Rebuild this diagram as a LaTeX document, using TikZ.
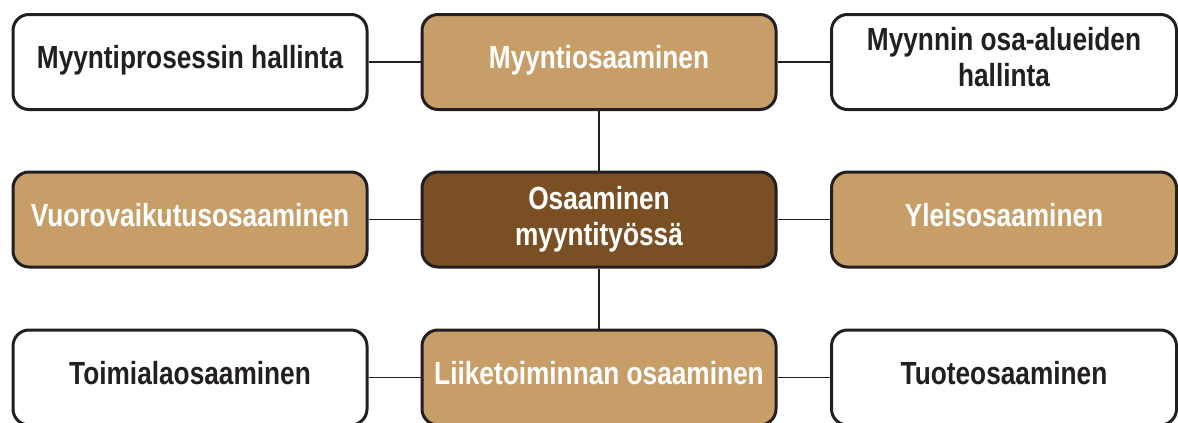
\documentclass[tikz,border=0pt]{standalone}
\usepackage{fontspec}
\setmainfont{Liberation Sans}[FakeStretch=0.82]
\definecolor{tan}{HTML}{C89E68}
\definecolor{darkbrown}{HTML}{7B4F24}
\definecolor{ink}{HTML}{231F20}
% invisible struts fixing the height of a first line and the depth of a last line
\newcommand\tallstrut{\rule{0pt}{24pt}}
\newcommand\deepstrut[1]{\rule[-#1]{0pt}{#1}}
\begin{document}
\begin{tikzpicture}[x=1pt,y=-1pt,
  box/.style={draw=ink, line width=3pt, rounded corners=16pt,
    minimum width=354pt, minimum height=95pt, inner sep=0pt,
    align=center, font=\fontsize{32}{36}\selectfont\bfseries, text=ink},
  oneline/.style={text height=24pt, text depth=11pt},
  narrowbox/.style={minimum width=345pt},
  plainbox/.style={box, fill=white},
  tanbox/.style={box, fill=tan, text=white},
  corebox/.style={box, fill=darkbrown, text=white},
  link/.style={draw=ink, line width=1.4pt}]
\useasboundingbox (0,0) rectangle (1178,423);
% top row
\node[plainbox, oneline] (tl) at (190,62) {Myyntiprosessin hallinta};
\node[tanbox, oneline]   (tm) at (599,62) {Myyntiosaaminen};
\node[plainbox, narrowbox] (tr) at (1004,62)
  {\tallstrut Myynnin osa-alueiden\\hallinta\deepstrut{12pt}};
% middle row
\node[tanbox, oneline]   (ml) at (190,219.5) {Vuorovaikutusosaaminen};
\node[corebox]  (mm) at (599,219.5)
  {\tallstrut Osaaminen\\myyntityössä\deepstrut{9pt}};
\node[tanbox, oneline, narrowbox] (mr) at (1004,219.5) {Yleisosaaminen};
% bottom row
\node[plainbox, oneline] (bl) at (190,377.5) {Toimialaosaaminen};
\node[tanbox, oneline]   (bm) at (599,377.5) {Liiketoiminnan osaaminen};
\node[plainbox, oneline, narrowbox] (br) at (1004,377.5) {Tuoteosaaminen};
% connectors
\draw[link] (tl) -- (tm);
\draw[link] (tm) -- (tr);
\draw[link] (ml) -- (mm);
\draw[link] (mm) -- (mr);
\draw[link] (bl) -- (bm);
\draw[link] (bm) -- (br);
\draw[link] (tm) -- (mm);
\draw[link] (mm) -- (bm);
\end{tikzpicture}
\end{document}
